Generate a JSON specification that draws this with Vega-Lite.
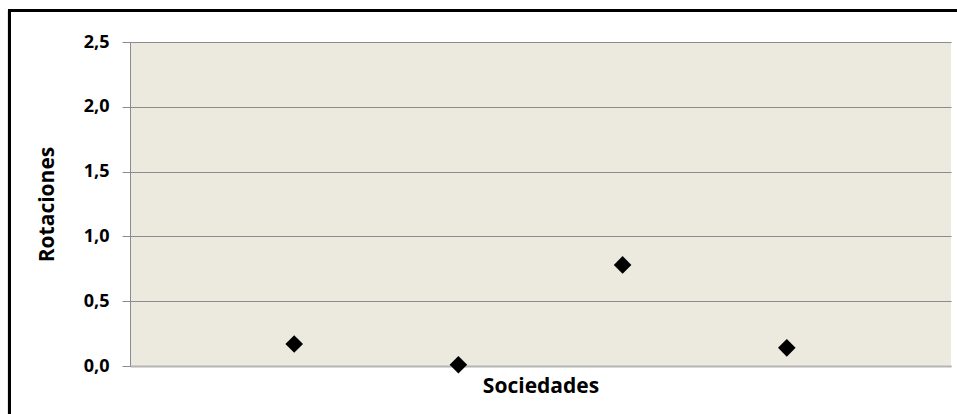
{
  "$schema": "https://vega.github.io/schema/vega-lite/v6.json",
  "width": 821,
  "height": 324,
  "autosize": {"type": "none"},
  "padding": {"left": 130, "top": 42, "right": 6, "bottom": 48},
  "background": "white",
  "config": {
    "view": {"fill": "#ECE9DF", "stroke": null},
    "font": "Open Sans",
    "axis": {
      "labelFont": "Open Sans",
      "titleFont": "Open Sans",
      "labelColor": "#000000",
      "titleColor": "#000000",
      "labelFontWeight": "bold",
      "titleFontWeight": "bold"
    }
  },
  "data": {
    "values": [
      {"sociedad": 1, "rotaciones": 0.17},
      {"sociedad": 2, "rotaciones": 0.01},
      {"sociedad": 3, "rotaciones": 0.78},
      {"sociedad": 4, "rotaciones": 0.14}
    ]
  },
  "layer": [
    {
      "mark": {"type": "point", "shape": "diamond", "filled": true, "color": "#000000", "size": 310, "opacity": 1},
      "encoding": {
        "x": {
          "field": "sociedad",
          "type": "quantitative",
          "scale": {"domain": [0, 5], "nice": false, "zero": false},
          "axis": {
            "title": "Sociedades",
            "titleFontSize": 21,
            "titlePadding": 9,
            "labels": false,
            "ticks": false,
            "grid": false,
            "domainColor": "#B4B4B4",
            "domainWidth": 2
          }
        },
        "y": {
          "field": "rotaciones",
          "type": "quantitative",
          "scale": {"domain": [0, 2.5], "nice": false},
          "axis": {
            "title": "Rotaciones",
            "titleFontSize": 21,
            "titlePadding": 26,
            "values": [0, 0.5, 1, 1.5, 2, 2.5],
            "labelExpr": "replace(format(datum.value, '.1f'), '.', ',')",
            "labelFontSize": 18,
            "labelPadding": 13,
            "tickSize": 8,
            "tickColor": "#8C8C8C",
            "domainColor": "#8C8C8C",
            "grid": true,
            "gridColor": "#8C8C8C",
            "gridWidth": 1
          }
        }
      }
    },
    {
      "mark": {"type": "rule", "color": "#000000", "strokeWidth": 3, "clip": false},
      "encoding": {
        "x": {"datum": -0.734, "type": "quantitative"},
        "y": {"datum": 2.743, "type": "quantitative"},
        "y2": {"datum": -0.6}
      }
    },
    {
      "mark": {"type": "rule", "color": "#000000", "strokeWidth": 3, "clip": false},
      "encoding": {
        "x": {"datum": -0.743, "type": "quantitative"},
        "x2": {"datum": 5.3},
        "y": {"datum": 2.743, "type": "quantitative"}
      }
    }
  ]
}
